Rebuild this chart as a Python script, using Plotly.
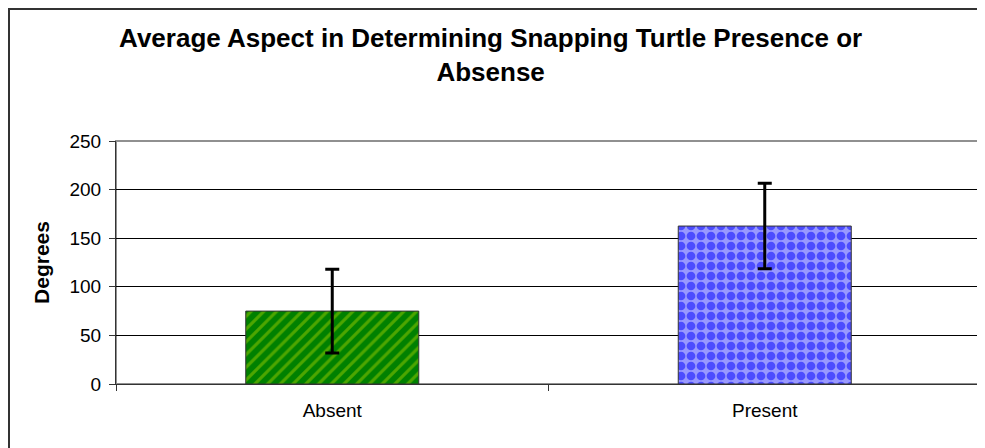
import plotly.graph_objects as go

categories = ["Absent", "Present"]
mean_aspect = [75, 162.5]
aspect_err = [43, 44]

fig = go.Figure()

fig.add_trace(
    go.Bar(
        x=[categories[0]],
        y=[mean_aspect[0]],
        error_y=dict(type="data", array=[aspect_err[0]], color="black", thickness=3, width=7),
        marker=dict(
            color="#008000",
            line=dict(color="#333333", width=1),
            pattern=dict(shape="/", fgcolor="#99CC00", bgcolor="#008000", size=9, solidity=0.35),
        ),
        width=0.4,
        showlegend=False,
    )
)
fig.add_trace(
    go.Bar(
        x=[categories[1]],
        y=[mean_aspect[1]],
        error_y=dict(type="data", array=[aspect_err[1]], color="black", thickness=3, width=7),
        marker=dict(
            color="#9999FF",
            line=dict(color="#333333", width=1),
            pattern=dict(shape=".", fgcolor="#0000FF", bgcolor="#9999FF", size=10, solidity=0.6),
        ),
        width=0.4,
        showlegend=False,
    )
)

# the page body adds an 8px offset, so the figure is a little smaller than the window
fig.update_layout(
    width=977,
    height=440,
    margin=dict(l=108, r=4, t=133, b=64),
    paper_bgcolor="white",
    plot_bgcolor="white",
    barmode="overlay",
    font=dict(family="Arial, Liberation Sans, sans-serif", size=19, color="black"),
    title=dict(
        text="<b>Average Aspect in Determining Snapping Turtle Presence or<br>Absense</b>",
        x=0.494,
        xref="container",
        xanchor="center",
        y=0.912,
        yanchor="top",
        font=dict(size=26, color="black"),
    ),
    xaxis=dict(
        showline=True,
        linecolor="#333333",
        linewidth=1,
        ticks="outside",
        tickson="boundaries",
        ticklen=6,
        tickcolor="#333333",
        ticklabelstandoff=9,
        showgrid=False,
    ),
    yaxis=dict(
        range=[0, 250],
        tickvals=[0, 50, 100, 150, 200, 250],
        showline=True,
        linecolor="#333333",
        linewidth=1,
        ticks="outside",
        ticklen=6,
        tickcolor="#333333",
        ticklabelstandoff=4,
        showgrid=True,
        gridcolor="black",
        gridwidth=1,
        zeroline=False,
        title=dict(text="<b>Degrees</b>", font=dict(size=21), standoff=14),
    ),
    shapes=[
        # plot area border (grey)
        dict(type="rect", xref="paper", yref="paper", x0=0, x1=1, y0=0, y1=1,
             line=dict(color="#909090", width=2), layer="below"),
        # outer chart border
        dict(type="rect", xref="paper", yref="paper", x0=-0.1237, x1=1.03, y0=-0.28, y1=1.543,
             line=dict(color="#333333", width=2)),
    ],
)

fig.write_html("out.html")
